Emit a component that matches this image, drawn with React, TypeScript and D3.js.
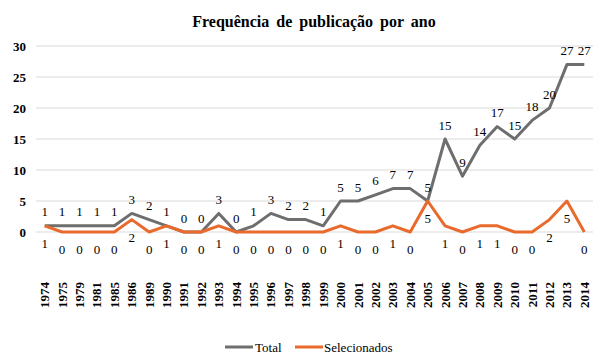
import React from "react";
import * as d3 from "d3";

const years = ["1974","1975","1979","1981","1985","1986","1989","1990","1991","1992","1993","1994","1995","1996","1997","1998","1999","2000","2001","2002","2003","2004","2005","2006","2007","2008","2009","2010","2011","2012","2013","2014"];
const total = [1,1,1,1,1,3,2,1,0,0,3,0,1,3,2,2,1,5,5,6,7,7,5,15,9,14,17,15,18,20,27,27];
const selecionados = [1,0,0,0,0,2,0,1,0,0,1,0,0,0,0,0,0,1,0,0,1,0,5,1,0,1,1,0,0,2,5,0];
const yTicks = [0,5,10,15,20,25,30];
const title = "Frequência de publicação por ano";
const seriesNames = ["Total", "Selecionados"];

const W = 609, H = 362;
const FONT = "'Liberation Serif', 'Times New Roman', serif";
const GRAY = "#6e6e6e";
const ORANGE = "#e86a2c";

export default function App() {
  const x = d3.scaleBand<string>().domain(years).range([36, 593]);
  const y = d3.scaleLinear().domain([0, 30]).range([232, 46]);
  const cx = (d: string) => (x(d) as number) + x.bandwidth() / 2;
  const line = d3.line<number>().x((_, i) => cx(years[i])).y((v) => y(v));

  return (
    <svg width={W} height={H} style={{ position: "absolute", left: 0, top: 0, background: "#fff" }} fontFamily={FONT}>
      <text x={314} y={27} textAnchor="middle" fontSize={16} fontWeight="bold" wordSpacing={3} fill="#000">{title}</text>
      {yTicks.map((t) => (
        <g key={t}>
          <line x1={36} x2={593} y1={y(t)} y2={y(t)} stroke="#d9d9d9" strokeWidth={1} />
          <text x={26} y={y(t) + 4.5} textAnchor="end" fontSize={13} fontWeight="bold" fill="#000">{t}</text>
        </g>
      ))}
      {years.map((yr) => (
        <text key={yr} transform={`translate(${cx(yr) + 4.5},282) rotate(-90)`} textAnchor="end" fontSize={13} fontWeight="bold" fill="#000">{yr}</text>
      ))}
      <path d={line(total) || ""} fill="none" stroke={GRAY} strokeWidth={3} strokeLinejoin="round" />
      <path d={line(selecionados) || ""} fill="none" stroke={ORANGE} strokeWidth={3} strokeLinejoin="round" />
      {total.map((v, i) => (
        <text key={"t" + i} x={cx(years[i])} y={y(v) - 9.5} textAnchor="middle" fontSize={13} fill="#000">{v}</text>
      ))}
      {selecionados.map((v, i) => (
        <text key={"s" + i} x={cx(years[i])} y={y(v) + 22} textAnchor="middle" fontSize={13} fill="#000">{v}</text>
      ))}
      <g>
        <line x1={225} x2={253} y1={347} y2={347} stroke={GRAY} strokeWidth={3} />
        <text x={255} y={351.5} fontSize={13} fill="#000">{seriesNames[0]}</text>
        <line x1={295} x2={323} y1={347} y2={347} stroke={ORANGE} strokeWidth={3} />
        <text x={324} y={351.5} fontSize={13} fill="#000">{seriesNames[1]}</text>
      </g>
    </svg>
  );
}
